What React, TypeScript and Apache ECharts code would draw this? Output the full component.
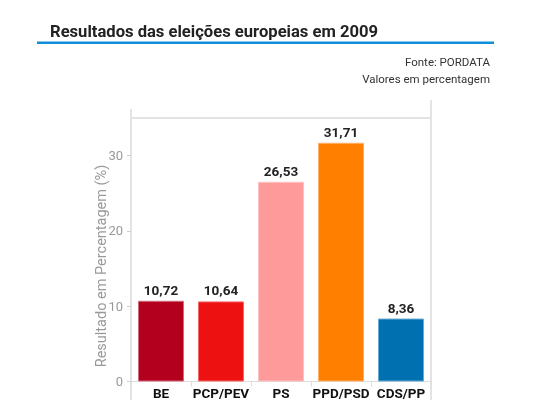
import React, { useEffect, useRef } from "react";
import * as echarts from "echarts";

const categories = ["BE", "PCP/PEV", "PS", "PPD/PSD", "CDS/PP"];
const values = [10.72, 10.64, 26.53, 31.71, 8.36];
const yTicks = { min: 0, max: 35, interval: 10 };
const titleText = "Resultados das eleições europeias em 2009";
const sourceText = "Fonte: PORDATA";
const unitText = "Valores em percentagem";
const yAxisName = "Resultado em Percentagem (%)";

const palette = ["#b3001f", "#ee1111", "#ff9a9a", "#ff8000", "#0070b0"];
const borders = ["#d46a7d", "#f56a6a", "#ffc2c2", "#ffb066", "#66a9d6"];
const FONT = "Roboto, 'Noto Sans', sans-serif";

export default function App() {
  const ref = useRef<HTMLDivElement>(null);
  useEffect(() => {
    if (!ref.current) return;
    const chart = echarts.init(ref.current, undefined, { renderer: "svg" });
    const gridLeft = 131;
    const gridRight = 431;
    const gridTop = 118;
    const gridBottom = 381.5;
    chart.setOption({
      animation: false,
      textStyle: { fontFamily: FONT },
      grid: {
        left: gridLeft,
        right: 560 - gridRight,
        top: gridTop,
        bottom: 419 - gridBottom,
        containLabel: false,
      },
      xAxis: [
        {
          type: "category",
          data: categories,
          axisLine: { show: true, lineStyle: { color: "#dddddd", width: 1 } },
          axisTick: { show: true, length: 5, lineStyle: { color: "#dddddd" } },
          axisLabel: {
            interval: 0,
            color: "#111111",
            fontSize: 13.5,
            fontWeight: "bold",
            fontFamily: FONT,
            margin: 4,
          },
        },
        {
          type: "category",
          data: categories,
          position: "top",
          axisLine: { show: true, lineStyle: { color: "#e3e3e3", width: 2 } },
          axisTick: { show: false },
          axisLabel: { show: false },
        },
      ],
      yAxis: {
        type: "value",
        min: yTicks.min,
        max: yTicks.max,
        interval: yTicks.interval,
        axisLine: { show: false },
        axisTick: { show: true, length: 4, lineStyle: { color: "#d0d0d0" } },
        splitLine: { show: false },
        axisLabel: {
          color: "#999999",
          fontSize: 13,
          fontFamily: FONT,
          margin: 8,
          showMaxLabel: false,
        },
      },
      series: [
        {
          type: "bar",
          xAxisIndex: 0,
          barWidth: 46,
          data: values.map((v, i) => ({
            value: v,
            itemStyle: {
              color: palette[i],
              borderColor: borders[i],
              borderWidth: 1,
            },
          })),
          label: {
            show: true,
            position: "top",
            distance: 4,
            color: "#222222",
            fontSize: 13.5,
            fontWeight: "bold",
            fontFamily: FONT,
            formatter: (p: any) => Number(p.value).toFixed(2).replace(".", ","),
          },
        },
      ],
      graphic: [
        {
          type: "text",
          x: 50,
          y: 31,
          style: {
            text: titleText,
            fontSize: 16.6,
            fontWeight: "bold",
            fontFamily: FONT,
            fill: "#222222",
            verticalAlign: "middle",
          },
        },
        {
          type: "rect",
          shape: { x: 37, y: 41.5, width: 457, height: 2.5 },
          style: { fill: "#128fd8" },
        },
        {
          type: "text",
          x: 490,
          y: 62,
          style: {
            text: sourceText,
            fontSize: 11.5,
            fontFamily: FONT,
            fill: "#333333",
            align: "right",
            verticalAlign: "middle",
          },
        },
        {
          type: "text",
          x: 490,
          y: 79,
          style: {
            text: unitText,
            fontSize: 11.5,
            fontFamily: FONT,
            fill: "#333333",
            align: "right",
            verticalAlign: "middle",
          },
        },
        {
          type: "text",
          x: 101.5,
          y: 266,
          rotation: Math.PI / 2,
          style: {
            text: yAxisName,
            fontSize: 14.5,
            fontFamily: FONT,
            fill: "#999999",
            align: "center",
            verticalAlign: "middle",
          },
        },
        {
          type: "line",
          shape: { x1: gridLeft, y1: 109, x2: gridLeft, y2: 400 },
          style: { stroke: "#e3e3e3", lineWidth: 2 },
        },
        {
          type: "line",
          shape: { x1: gridRight, y1: 100, x2: gridRight, y2: 400 },
          style: { stroke: "#e3e3e3", lineWidth: 2 },
        },
      ],
    });
    return () => chart.dispose();
  }, []);
  return (
    <div
      ref={ref}
      style={{ position: "fixed", left: 0, top: 0, width: 560, height: 419 }}
    />
  );
}
